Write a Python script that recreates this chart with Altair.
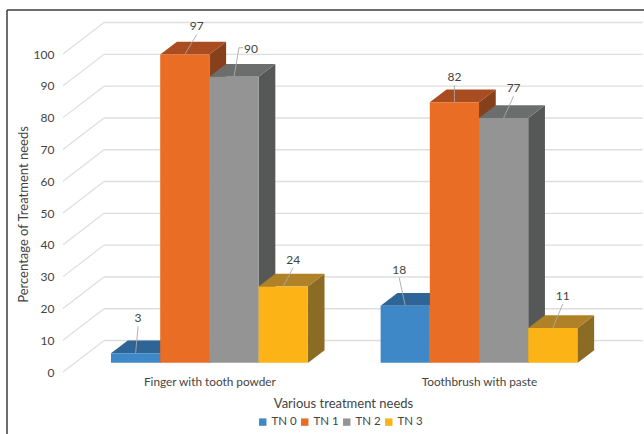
import altair as alt
import pandas as pd

# Treatment-need percentages per cleaning method
METHODS = ["Finger with tooth powder", "Toothbrush with paste"]
SERIES = ["TN 0", "TN 1", "TN 2", "TN 3"]
FINGER = [3, 97, 90, 24]
TOOTHBRUSH = [18, 82, 77, 11]

FRONT = ["#3f88c8", "#e96d25", "#949494", "#fbb316"]
TOP = ["#2e6496", "#a94c20", "#6c6e6e", "#b08228"]
SIDE = ["#2a5a88", "#86401c", "#565858", "#8c6b24"]
TEXT = "#444444"
GRID = "#dedede"
FONT = "Lato"

# Chart geometry, in axis units (one x unit is one bar width)
PX_X, PX_Y = 49.2, 372 / 117
WIDTH, HEIGHT = 584, 372
X_DOMAIN = [-51 / PX_X, (WIDTH - 51) / PX_X]
GROUP_START = [0, 5.48]
FLOOR = 2.87
DEPTH_X, DEPTH_Y = 0.34, 4.0
WALL_LEFT, WALL_RIGHT, FRONT_LEFT = -0.142, 10.81, -0.975
WALL_RISE = 9.9

# Label offsets from each bar's front top centre, in pixels (right, up)
LABEL_SHIFT = [[(2.5, 35), (12, 28), (17, 28), (10, 27)],
               [(-6, 36), (0, 25), (10, 30), (10, 32)]]

bars = []
for g, vals in enumerate([FINGER, TOOTHBRUSH]):
    for s, v in enumerate(vals):
        x0 = GROUP_START[g] + s
        bars.append(dict(method=METHODS[g], series=SERIES[s], s=s, g=g, value=v,
                         x0=x0, x1=x0 + 1, bottom=FLOOR, top=FLOOR + v))
bars = pd.DataFrame(bars)

x_scale = alt.Scale(domain=X_DOMAIN, nice=False, zero=False)
y_scale = alt.Scale(domain=[0, 117], nice=False, zero=False)
x_axis = alt.Axis(values=[g + 2 for g in GROUP_START], domain=False, ticks=False,
                  grid=False, labelOverlap=False, labelFlush=False,
                  labelExpr=f"datum.value < 5 ? '{METHODS[0]}' : '{METHODS[1]}'",
                  labelFont=FONT, labelFontSize=11.8, labelColor=TEXT, labelPadding=4,
                  titleFont=FONT, titleFontSize=13, titleFontWeight="normal",
                  titleColor=TEXT, titleX=283, titleY=25)
y_axis = alt.Axis(values=list(range(0, 101, 10)), domain=False, ticks=False,
                  grid=False, labelFont=FONT, labelFontSize=12, labelColor=TEXT,
                  labelPadding=6, titleFont=FONT, titleFontSize=13,
                  titleFontWeight="normal", titleColor=TEXT, titleX=-30, titleY=214)
X_TITLE, Y_TITLE = "Various treatment needs", "Percentage of Treatment needs"
X = lambda f: alt.X(f, type="quantitative", scale=x_scale, axis=x_axis, title=X_TITLE)
Y = lambda f: alt.Y(f, type="quantitative", scale=y_scale, axis=y_axis, title=Y_TITLE, stack=None)

# Back wall and side wall grid lines
grid = pd.DataFrame({"v": list(range(0, 101, 10))})
grid["w"] = grid.v + WALL_RISE
grid["xa"], grid["xb"], grid["xc"] = FRONT_LEFT, WALL_LEFT, WALL_RIGHT

wall = alt.Chart(grid).mark_rule(color=GRID, strokeWidth=1.4).encode(
    x=X("xb"), x2="xc", y=Y("w"))
diagonal = alt.Chart(grid).mark_rule(color=GRID, strokeWidth=1.2).encode(
    x=X("xa"), x2="xb", y=Y("v"), y2="w")

layers = [wall, diagonal]

# Right-hand faces of the bars
for s in range(4):
    rows = []
    for _, b in bars[bars.s == s].iterrows():
        rows.append(dict(id=b.g, x=b.x1, hi=b.top, lo=b.bottom))
        rows.append(dict(id=b.g, x=b.x1 + DEPTH_X, hi=b.top + DEPTH_Y, lo=b.bottom + DEPTH_Y))
    layers.append(alt.Chart(pd.DataFrame(rows)).mark_area(color=SIDE[s], opacity=1).encode(
        x=X("x"), y=Y("hi"), y2="lo", detail="id:N"))

# Top faces of the bars
for s in range(4):
    rows = []
    for _, b in bars[bars.s == s].iterrows():
        rows.append(dict(id=b.g, x=b.x0, hi=b.top, lo=b.top))
        rows.append(dict(id=b.g, x=b.x0 + DEPTH_X, hi=b.top + DEPTH_Y, lo=b.top))
        rows.append(dict(id=b.g, x=b.x1, hi=b.top + DEPTH_Y, lo=b.top))
        rows.append(dict(id=b.g, x=b.x1 + DEPTH_X, hi=b.top + DEPTH_Y, lo=b.top + DEPTH_Y))
    layers.append(alt.Chart(pd.DataFrame(rows)).mark_area(color=TOP[s], opacity=1).encode(
        x=X("x"), y=Y("hi"), y2="lo", detail="id:N"))

# Front faces, which also carry the legend
front = alt.Chart(bars).mark_rect().encode(
    x=X("x0"),
    x2="x1:Q",
    y=Y("top"),
    y2="bottom:Q",
    color=alt.Color("series:N", scale=alt.Scale(domain=SERIES, range=FRONT),
                    legend=alt.Legend(title=None, orient="none", direction="horizontal",
                                      legendX=197, legendY=416, symbolType="square",
                                      symbolSize=55, symbolStrokeWidth=0, labelFont=FONT,
                                      labelFontSize=11.5, labelColor=TEXT, columnPadding=2,
                                      labelOffset=3)),
)
layers.append(front)

# Value labels with their leader lines
leaders, labels = [], []
for _, b in bars.iterrows():
    dx, dy = LABEL_SHIFT[b.g][b.s]
    cx = b.x0 + 0.5
    lx, ly = cx + dx / PX_X, b.top + dy / PX_Y
    rows = [(cx, b.top), (lx, b.top + (dy - 8) / PX_Y)]
    if b.series == "TN 2" and b.g == 0:
        rows = [(cx, b.top), (cx + 5 / PX_X, b.top + 29 / PX_Y), (cx + 9 / PX_X, b.top + 29 / PX_Y)]
    leaders += [dict(id=f"{b.g}{b.s}", o=i, x=p[0], y=p[1]) for i, p in enumerate(rows)]
    labels.append(dict(x=lx, y=ly, value=b.value))

layers.append(alt.Chart(pd.DataFrame(leaders)).mark_line(color="#a8a8a8", strokeWidth=0.9).encode(
    x=X("x"), y=Y("y"), detail="id:N", order="o:Q"))
layers.append(alt.Chart(pd.DataFrame(labels)).mark_text(
    font=FONT, fontSize=12, color=TEXT, baseline="middle").encode(
    x=X("x"), y=Y("y"), text="value:Q"))

# Frame along the left and top of the figure
layers.append(alt.Chart(bars.head(1)).mark_rule(color="#3c3c3c", strokeWidth=1.5).encode(
    x=alt.value(-53), y=alt.value(10), y2=alt.value(434)))
layers.append(alt.Chart(bars.head(1)).mark_rule(color="#3c3c3c", strokeWidth=1.5).encode(
    x=alt.value(-53), x2=alt.value(WIDTH), y=alt.value(10)))

chart = alt.layer(*layers).properties(
    width=WIDTH, height=HEIGHT, autosize="none", background="white",
    padding={"left": 60, "top": 0, "right": 0, "bottom": 62},
).configure_view(stroke=None)

chart.save("out.html", embed_options={"renderer": "svg", "actions": False})
